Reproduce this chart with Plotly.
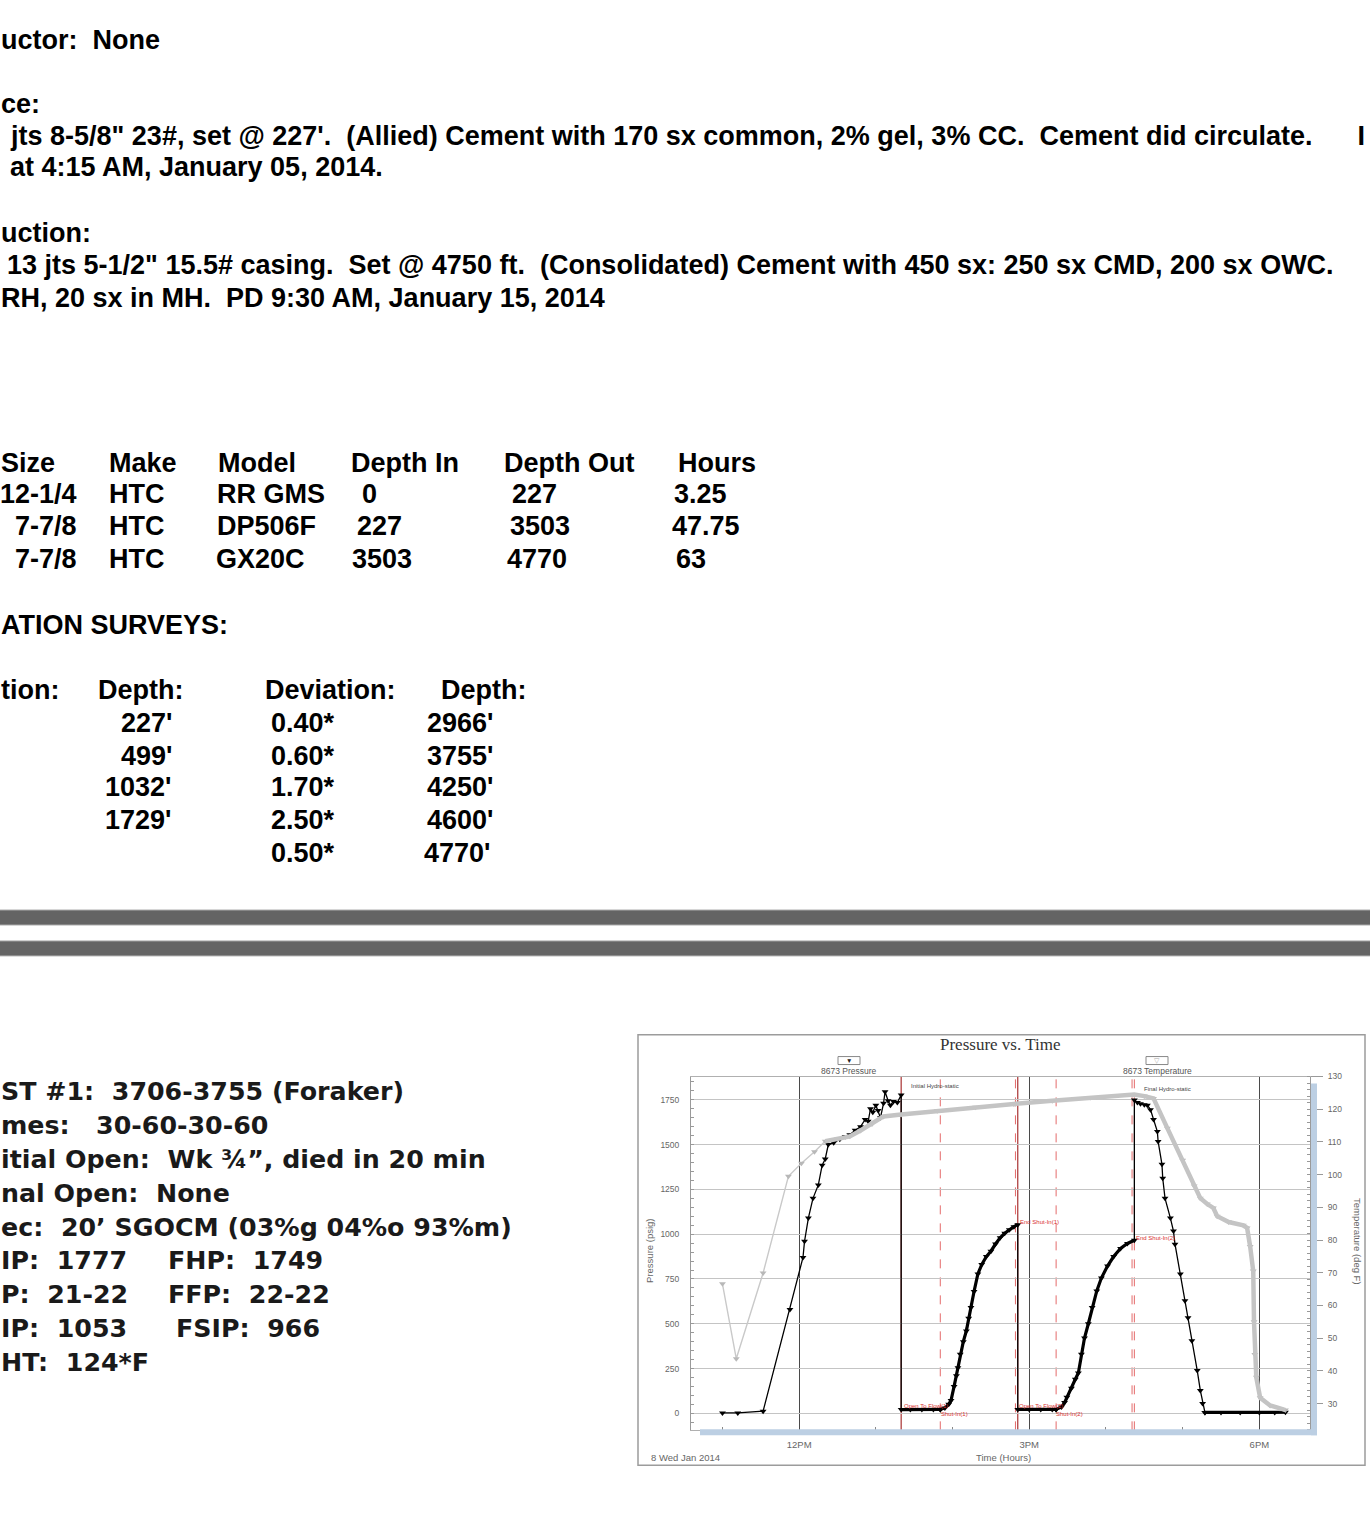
import plotly.graph_objects as go

W, H = 1370, 1537

# ---------------- DATA ----------------
# Document text (visible part of a cropped page)
casing_lines = [
    "uctor:  None",
    "ce:",
    "jts 8-5/8\" 23#, set @ 227'.  (Allied) Cement with 170 sx common, 2% gel, 3% CC.  Cement did circulate.      I",
    "at 4:15 AM, January 05, 2014.",
    "uction:",
    "13 jts 5-1/2\" 15.5# casing.  Set @ 4750 ft.  (Consolidated) Cement with 450 sx: 250 sx CMD, 200 sx OWC.",
    "RH, 20 sx in MH.  PD 9:30 AM, January 15, 2014",
]

bit_headers = ["Size", "Make", "Model", "Depth In", "Depth Out", "Hours"]
bit_sizes = ["12-1/4", "7-7/8", "7-7/8"]
bit_makes = ["HTC", "HTC", "HTC"]
bit_models = ["RR GMS", "DP506F", "GX20C"]
bit_depth_in = ["0", "227", "3503"]
bit_depth_out = ["227", "3503", "4770"]
bit_hours = ["3.25", "47.75", "63"]

survey_title = "ATION SURVEYS:"
survey_headers = ["tion:", "Depth:", "Deviation:", "Depth:"]
survey_depth_1 = ["227'", "499'", "1032'", "1729'"]
survey_dev_2 = ["0.40*", "0.60*", "1.70*", "2.50*", "0.50*"]
survey_depth_2 = ["2966'", "3755'", "4250'", "4600'", "4770'"]

dst_left = [
    "ST #1:  3706-3755 (Foraker)",
    "mes:   30-60-30-60",
    "itial Open:  Wk \u00be\u201d, died in 20 min",
    "nal Open:  None",
    "ec:  20\u2019 SGOCM (03%g 04%o 93%m)",
    "IP:  1777",
    "P:  21-22",
    "IP:  1053",
    "HT:  124*F",
]
dst_right = ["FHP:  1749", "FFP:  22-22", "FSIP:  966"]

# Pressure (psig) vs time (hours of day, 8 Jan 2014), gauge 8673
runin_h = [11.00, 11.20, 11.53, 11.88, 12.05, 12.07, 12.12, 12.18, 12.25, 12.30, 12.34, 12.38,
           12.45, 12.53, 12.60, 12.66, 12.73, 12.80, 12.86, 12.90, 12.93, 12.96, 13.00, 13.03,
           13.06, 13.10, 13.12, 13.16, 13.19, 13.23, 13.28, 13.33]
runin_p = [2, 2, 12, 580, 870, 960, 1090, 1200, 1275, 1385, 1420, 1500,
           1510, 1530, 1545, 1555, 1580, 1600, 1640, 1630, 1700, 1680, 1720, 1690,
           1650, 1730, 1795, 1745, 1720, 1740, 1735, 1777]
flow1_h = [13.33, 13.45, 13.60, 13.75, 13.84]
flow1_p = [21, 22, 22, 22, 22]
shutin1_h = [13.84, 13.90, 13.95, 13.98, 14.02, 14.05, 14.07, 14.10, 14.14, 14.18, 14.21, 14.24,
             14.28, 14.33, 14.38, 14.44, 14.50, 14.56, 14.62, 14.68, 14.74, 14.80, 14.85]
shutin1_p = [22, 30, 50, 72, 150, 210, 255, 330, 400, 460, 530, 590,
             680, 778, 830, 875, 905, 945, 980, 1005, 1025, 1042, 1053]
flow2_h = [14.85, 15.00, 15.15, 15.30, 15.35]
flow2_p = [22, 22, 22, 22, 22]
shutin2_h = [15.35, 15.42, 15.46, 15.49, 15.55, 15.60, 15.64, 15.68, 15.72, 15.77, 15.82, 15.88,
             15.94, 16.02, 16.10, 16.19, 16.28, 16.37]
shutin2_p = [22, 35, 60, 90, 140, 190, 225, 330, 420, 500, 590, 683,
             755, 822, 875, 920, 948, 966]
pullout_h = [16.37, 16.41, 16.45, 16.50, 16.54, 16.58, 16.62, 16.67, 16.68, 16.73, 16.74, 16.77,
             16.84, 16.88, 16.90, 16.97, 17.03, 17.07, 17.12, 17.19, 17.23, 17.26, 17.29]
pullout_p = [1749, 1735, 1728, 1722, 1720, 1695, 1640, 1573, 1517, 1390, 1312, 1200,
             1090, 1017, 944, 778, 628, 533, 405, 239, 128, 55, 5]
surface_h = [17.29, 17.50, 17.75, 18.00, 18.20, 18.34]
surface_p = [5, 5, 5, 5, 5, 6]

# Temperature (deg F) vs time
temp_h = [11.00, 11.18, 11.53, 11.86, 12.03, 12.20, 12.34, 12.50, 12.66, 12.80, 12.95, 13.10,
          13.33, 13.80, 14.30, 14.80, 15.30, 15.80, 16.37, 16.50, 16.62, 16.80, 17.00, 17.15,
          17.23, 17.32, 17.40, 17.45, 17.60, 17.79, 17.84, 17.88, 17.92, 17.93, 17.94, 17.96,
          18.01, 18.14, 18.27, 18.34]
temp_f = [66.6, 43.7, 69.9, 99.5, 103.5, 107.0, 110.2, 111.0, 111.7, 113.5, 115.5, 117.8,
          118.4, 119.5, 120.6, 121.6, 122.6, 123.6, 124.5, 124.0, 123.3, 114.2, 104.4, 96.5,
          92.8, 91.0, 89.8, 87.3, 85.5, 84.5, 83.7, 78.0, 70.5, 55.0, 45.0, 38.0,
          31.8, 29.4, 28.5, 28.0]

# Test events (hours)
event_h = [13.33, 13.84, 14.85, 15.35, 16.37]
event_solid = [True, False, True, False, False]

x_tick_vals = [12, 15, 18]
x_tick_text = ["12PM", "3PM", "6PM"]
p_ticks = [0, 250, 500, 750, 1000, 1250, 1500, 1750]
t_ticks = [30, 40, 50, 60, 70, 80, 90, 100, 110, 120, 130]

# ---------------- FIGURE ----------------
def fx(x):
    return x / W

def fy(y):
    return 1 - y / H

fig = go.Figure()

ARIAL = "Liberation Sans, Arial, sans-serif"
DSTF = "DejaVu Sans, Verdana, sans-serif"

def txt(s, x, y, size, family=ARIAL, color="black", weight="normal",
        xanchor="left", yanchor="middle", angle=0):
    fig.add_annotation(text=s, x=fx(x), y=fy(y), xref="paper", yref="paper",
                       showarrow=False, xanchor=xanchor, yanchor=yanchor,
                       textangle=angle, borderpad=0,
                       font=dict(size=size, family=family, color=color, weight=weight))

DOC = 27
# Casing section
for s, x, y in zip(casing_lines, [0, 0, 9, 9, 0, 6, 0], [35, 99, 131, 163, 229, 261, 294]):
    txt(s, x, y, DOC, weight="bold")

# Bit record table
col_x = [0, 108, 217, 350, 503, 677]
for h, x in zip(bit_headers, col_x):
    txt(h, x, 459, DOC, weight="bold")
row_y = [491, 523, 556]
for i, y in enumerate(row_y):
    txt(bit_sizes[i], 78, y, DOC, weight="bold", xanchor="right")
    txt(bit_makes[i], 108, y, DOC, weight="bold")
    txt(bit_models[i], [216, 216, 215][i], y, DOC, weight="bold")
    txt(bit_depth_in[i], [361, 356, 351][i], y, DOC, weight="bold")
    txt(bit_depth_out[i], [511, 509, 506][i], y, DOC, weight="bold")
    txt(bit_hours[i], [673, 671, 675][i], y, DOC, weight="bold")

# Deviation surveys
txt(survey_title, 0, 622, DOC, weight="bold")
for h, x in zip(survey_headers, [0, 97, 264, 440]):
    txt(h, x, 687, DOC, weight="bold")
srow_y = [720, 753, 785, 818, 851]
for i, s in enumerate(survey_depth_1):
    txt(s, 173, srow_y[i], DOC, weight="bold", xanchor="right")
for i, s in enumerate(survey_dev_2):
    txt(s, 270, srow_y[i], DOC, weight="bold")
for i, s in enumerate(survey_depth_2):
    txt(s, [426, 426, 426, 426, 423][i], srow_y[i], DOC, weight="bold")

# Separator bars
for y0, y1 in [(908, 923), (939, 954)]:
    fig.add_shape(type="rect", xref="paper", yref="paper", x0=fx(-2), x1=fx(W + 2),
                  y0=fy(y1), y1=fy(y0), fillcolor="#646464",
                  line=dict(color="#a8a8a8", width=1), layer="above")

# DST text
DSTS = 25.3
dst_y = [1090, 1124, 1158, 1192, 1226, 1260, 1294, 1328, 1362]
for s, y in zip(dst_left, dst_y):
    txt(s, 0, y, DSTS, family=DSTF, color="#1a1a1a", weight="bold")
for s, x, y in zip(dst_right, [167, 167, 175], [1260, 1294, 1328]):
    txt(s, x, y, DSTS, family=DSTF, color="#1a1a1a", weight="bold")

# ---------------- CHART ----------------
dense_style = dict(color="black", width=3.2)

# temperature (thin line with markers + dense band where samples overlap)
fig.add_trace(go.Scatter(x=temp_h, y=temp_f, yaxis="y2", mode="lines+markers",
                         line=dict(color="#c9c9c9", width=1.4),
                         marker=dict(symbol="triangle-down", size=6, color="#b8b8b8"),
                         showlegend=False, name="8673 Temperature"))
dense_t = [(h, t) for h, t in zip(temp_h, temp_f) if h >= 12.34]
fig.add_trace(go.Scatter(x=[d[0] for d in dense_t], y=[d[1] for d in dense_t], yaxis="y2",
                         mode="lines", line=dict(color="#c4c4c4", width=4.5),
                         showlegend=False, hoverinfo="skip"))

# pressure
all_h = runin_h + flow1_h + shutin1_h + flow2_h + shutin2_h + pullout_h + surface_h
all_p = runin_p + flow1_p + shutin1_p + flow2_p + shutin2_p + pullout_p + surface_p
fig.add_trace(go.Scatter(x=all_h, y=all_p, mode="lines+markers",
                         line=dict(color="black", width=1.3),
                         marker=dict(symbol="triangle-down", size=6, color="black"),
                         showlegend=False, name="8673 Pressure"))
for sh, sp in [(flow1_h, flow1_p), (shutin1_h, shutin1_p), (flow2_h, flow2_p),
               (shutin2_h, shutin2_p), (surface_h, surface_p)]:
    fig.add_trace(go.Scatter(x=sh, y=sp, mode="lines", line=dense_style,
                             showlegend=False, hoverinfo="skip"))

# event lines
for h, solid in zip(event_h, event_solid):
    fig.add_shape(type="line", xref="x", yref="y domain", x0=h, x1=h, y0=0, y1=1,
                  line=dict(color="#a83232" if solid else "#e46a6a",
                            width=1.2 if solid else 1, dash="solid" if solid else "dash"),
                  layer="below")
for h in [14.85, 16.37]:
    fig.add_shape(type="line", xref="x", yref="y domain", x0=h - 0.03, x1=h - 0.03, y0=0, y1=1,
                  line=dict(color="#e46a6a", width=1, dash="dash"), layer="below")

PX0, PX1, PY0, PY1 = 691, 1310, 1075, 1430
TICKF = dict(size=8.5, family=ARIAL, color="#666")
fig.update_layout(
    width=W, height=H, autosize=False,
    margin=dict(l=0, r=0, t=0, b=0),
    paper_bgcolor="white", plot_bgcolor="white",
    xaxis=dict(domain=[fx(PX0), fx(PX1)], range=[10.59, 18.66],
               tickmode="array", tickvals=x_tick_vals, ticktext=x_tick_text,
               showgrid=True, gridcolor="#4a4a4a", gridwidth=1, zeroline=False,
               ticks="", showline=True, linecolor="#b0b0b0", mirror=True,
               tickfont=dict(size=9.5, family=ARIAL, color="#666"), ticklabelstandoff=5,
               minor=dict(tickmode="array", tickvals=[11, 13, 14, 16, 17], ticks="inside",
                          ticklen=3, tickcolor="#888", showgrid=False)),
    yaxis=dict(domain=[fy(PY1), fy(PY0)], range=[-95, 1880],
               tickmode="array", tickvals=p_ticks, showgrid=True, gridcolor="#c4c4c4",
               gridwidth=1, zeroline=False, ticks="", showline=True, linecolor="#9a9a9a",
               mirror=False, tickfont=TICKF, ticklabelstandoff=9,
               minor=dict(dtick=50, ticks="inside", ticklen=3, tickcolor="#999", showgrid=False)),
    yaxis2=dict(overlaying="y", side="right", range=[21.8, 130], tickmode="array",
                tickvals=t_ticks, showgrid=False, zeroline=False, ticks="outside",
                ticklen=12, tickcolor="#999", showline=True, linecolor="#9a9a9a",
                tickfont=TICKF, ticklabelstandoff=3,
                minor=dict(dtick=2, ticks="inside", ticklen=3, tickcolor="#999")),
)

# outer chart frame
fig.add_shape(type="rect", xref="paper", yref="paper", x0=fx(638), x1=fx(1365),
              y0=fy(1465), y1=fy(1033), line=dict(color="#9c9c9c", width=1.5),
              fillcolor="rgba(0,0,0,0)", layer="below")
# scroll bars
fig.add_shape(type="rect", xref="paper", yref="paper", x0=fx(700), x1=fx(1317),
              y0=fy(1435), y1=fy(1429), fillcolor="#bccfe3", line=dict(width=0), layer="above")
fig.add_shape(type="rect", xref="paper", yref="paper", x0=fx(1311), x1=fx(1317),
              y0=fy(1435), y1=fy(1082), fillcolor="#bccfe3", line=dict(width=0), layer="above")

# legend boxes
for cx, sym, col in [(849, "\u25bc", "#222"), (1157, "\u25bd", "#aaa")]:
    fig.add_shape(type="rect", xref="paper", yref="paper", x0=fx(cx - 11), x1=fx(cx + 11),
                  y0=fy(1063), y1=fy(1055), line=dict(color="#888", width=1),
                  fillcolor="white")
    txt(sym, cx, 1059, 6.5, color=col, xanchor="center")
txt("8673 Pressure", 849, 1069, 8.5, color="#555", xanchor="center")
txt("8673 Temperature", 1157, 1069, 8.5, color="#555", xanchor="center")

# chart title & axis titles
txt("Pressure vs. Time", 1000, 1043, 17, family="Liberation Serif, Times New Roman, serif",
    color="#333", xanchor="center")
txt("Pressure (psig)", 650, 1250, 9.5, color="#666", xanchor="center", angle=-90)
txt("Temperature (deg F)", 1357, 1240, 9.5, color="#666", xanchor="center", angle=90)
txt("Time (Hours)", 1003, 1457, 9.5, color="#666", xanchor="center")
txt("8 Wed Jan 2014", 650, 1457, 9.5, color="#666")

# in-plot labels
txt("Initial Hydro-static", 910, 1085, 6, color="#444")
txt("Final Hydro-static", 1143, 1088, 6, color="#444")
txt("End Shut-In(1)", 1019, 1221, 6, color="#d83030")
txt("End Shut-In(2)", 1135, 1237, 6, color="#d83030")
txt("Open To Flow(1)", 903, 1406, 6, color="#d83030")
txt("Shut-In(1)", 940, 1414, 6, color="#d83030")
txt("Open To Flow(2)", 1018, 1406, 6, color="#d83030")
txt("Shut-In(2)", 1055, 1414, 6, color="#d83030")

fig.write_html("out.html", include_plotlyjs=True, full_html=True,
               config={"displayModeBar": False},
               post_script="document.body.style.margin='0px';")
